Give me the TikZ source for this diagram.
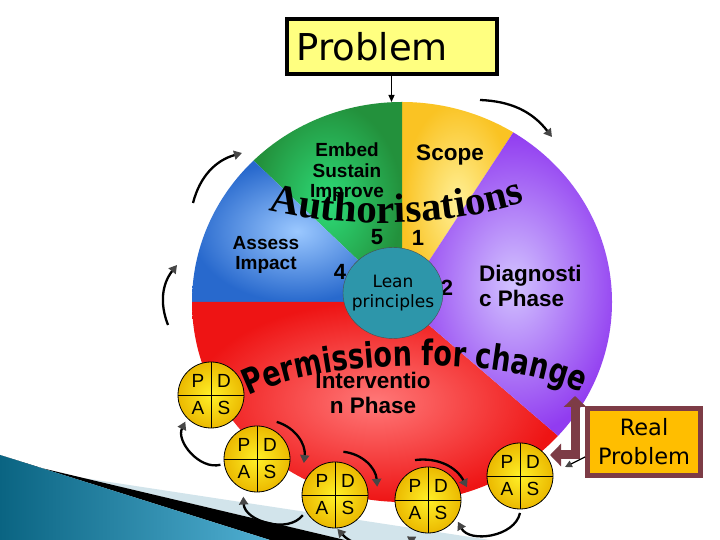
\documentclass[tikz,border=0pt]{standalone}
\usepackage{fontspec}
\setmainfont{Liberation Sans}
\newfontfamily\serifWa{Liberation Serif}
\newfontfamily\tahomaLike{DejaVu Sans}
\usepackage{tikz}
\usetikzlibrary{arrows.meta, positioning, calc, decorations.text, shapes.geometric}
\definecolor{grnIn}{RGB}{45, 220, 120}
\definecolor{grnOut}{RGB}{35, 145, 60}
\definecolor{yelIn}{RGB}{255, 240, 150}
\definecolor{yelOut}{RGB}{250, 195, 35}
\definecolor{purIn}{RGB}{210, 195, 255}
\definecolor{purOut}{RGB}{145, 60, 240}
\definecolor{redIn}{RGB}{255, 120, 120}
\definecolor{redOut}{RGB}{238, 20, 20}
\definecolor{bluIn}{RGB}{155, 200, 255}
\definecolor{bluOut}{RGB}{40, 105, 205}
\definecolor{leanTeal}{RGB}{45, 150, 170}
\definecolor{probYellow}{RGB}{255, 255, 128}
\definecolor{realOrange}{RGB}{255, 190, 0}
\definecolor{realBrown}{RGB}{125, 60, 70}
\definecolor{pdIn}{RGB}{255, 240, 40}
\definecolor{pdOut}{RGB}{235, 185, 0}
\definecolor{tipGray}{RGB}{70, 70, 70}
\definecolor{tealDark}{RGB}{10, 100, 130}
\definecolor{tealLight}{RGB}{80, 175, 210}
\definecolor{stripeLight}{RGB}{210, 228, 235}
\newcommand\authFont{\serifWa\bfseries\fontsize{41}{41}\selectfont}
\newcommand\permFont{\tahomaLike\bfseries\fontsize{27}{27}\selectfont}
\tikzset{
    lbl/.style={font=\bfseries\fontsize{19}{20.5}\selectfont, align=center, inner sep=0pt},
    lblBig/.style={font=\bfseries\fontsize{22.5}{25}\selectfont, align=center, inner sep=0pt},
    numLbl/.style={font=\bfseries\fontsize{22}{22}\selectfont, inner sep=0pt},
    pdsa/.style={circle, draw=black, line width=0.8pt, minimum size=66pt, inner sep=0pt, inner color=pdIn, outer color=pdOut},
    pdLtr/.style={font=\fontsize{19}{19}\selectfont, inner sep=0pt},
    cycArrow/.style={line width=2.3pt, -{Triangle[length=8pt, width=9pt, color=tipGray]}},
    probBox/.style={draw, line width=4pt, fill=probYellow, text width=190pt, inner xsep=10pt, minimum height=55pt, align=left, font=\tahomaLike\fontsize{37}{40}\selectfont},
    realBox/.style={draw=realBrown, line width=5pt, fill=realOrange, minimum width=113pt, minimum height=67pt, align=center, font=\tahomaLike\fontsize{22.5}{29}\selectfont},
    elbow/.style={draw=realBrown, line width=9pt, {Triangle[length=11pt, width=22pt]}-{Triangle[length=11pt, width=22pt]}}
}
\begin{document}
\begin{tikzpicture}[x=1pt, y=1pt]
    \useasboundingbox (0,0) rectangle (720,540);
    \fill[white] (0,0) rectangle (720,540);
    \fill[stripeLight] (83,62) -- (490,0) -- (345,0) -- cycle;
    \fill[black] (37,73) -- (345,0) -- (270,0) -- (0,85) -- cycle;
    \shade[left color=tealDark, right color=tealLight] (0,85) -- (270,0) -- (0,0) -- cycle;

    \coordinate (c) at (402,238);
    \foreach \a/\b/\cIn/\cOut in {58/90/yelIn/yelOut, 90/135/grnIn/grnOut, 135/180/bluIn/bluOut, 180/318/redIn/redOut, -42/58/purIn/purOut}
        \shade[inner color=\cIn, outer color=\cOut] (c) -- ++(\a:210pt and 200pt) arc[start angle=\a, end angle=\b, x radius=210pt, y radius=200pt] -- cycle;

    \node[lbl] (embed) at (347,367.5) {Embed\\Sustain\\Improve};
    \node[lblBig] (scope) at (450,385) {Scope};
    \node[lbl] (assess) at (266,285) {Assess\\Impact};
    \node[lblBig, align=left, anchor=west] (diag) at (479,254.5) {Diagnosti\\c Phase};
    \node[lblBig] (interv) at (373,147.5) {Interventio\\n Phase};

    \node[numLbl] (n5) at (377,303) {5};
    \node[numLbl] (n1) at (418,302) {1};
    \node[numLbl] (n4) at (340,268) {4};
    \node[numLbl] (n2) at (447,252) {2};

    \node[ellipse, draw=black!70, fill=leanTeal, minimum width=100pt, minimum height=91pt, inner sep=0pt] (lean) at (393,247) {};
    \node[align=center, inner sep=0pt, font=\tahomaLike\fontsize{17}{20}\selectfont] (leanTxt) at (lean) {Lean\\principles};

    \path[decorate, decoration={text along path, text={|\authFont|Authorisations}, text align=center}] (262,331) .. controls (345,311) and (445,311) .. (531,340);
    \path[decorate, decoration={text effects along path, text={Permission for change}, text align=center, text effects/.cd, text along path, characters={font=\permFont, yscale=1.3, inner sep=0pt}}] (243,141) .. controls (320,184) and (510,186) .. (587,144);

    \foreach \n/\px/\py in {1/211/145, 2/257/81, 3/335/45, 4/428/40, 5/520/64}
    {
        \node[pdsa] (pd\n) at (\px,\py) {};
        \draw[line width=0.8pt] (pd\n.north) -- (pd\n.south) (pd\n.west) -- (pd\n.east);
        \node[pdLtr] at ($(pd\n)+(-13,14)$) {P};
        \node[pdLtr] at ($(pd\n)+(13,14)$) {D};
        \node[pdLtr] at ($(pd\n)+(-13,-13)$) {A};
        \node[pdLtr] at ($(pd\n)+(13,-13)$) {S};
    }

    \draw[cycArrow] ($(pd2)+(189:37pt)$) to[bend left=65] ($(pd1)+(226:37pt)$);
    \draw[cycArrow] ($(pd2)+(62:42pt)$) to[bend left=40] ($(pd2)+(-5:47pt)$);
    \draw[cycArrow] ($(pd3)+(79:44pt)$) to[bend left=40] ($(pd3)+(11:43pt)$);
    \draw[cycArrow] ($(pd4)+(108:42pt)$) to[bend left=35] ($(pd4)+(18:41pt)$);
    \draw[cycArrow] ($(pd3)+(212:38pt)$) to[bend left=70] ($(pd2)+(250:40pt)$);
    \draw[cycArrow] ($(pd3)+(-60:60pt)$) to[bend left=15] ($(pd3)+(274:34pt)$);
    \draw[cycArrow] ($(pd5)+(270:37pt)$) to[bend left=70] ($(pd4)+(-36:37pt)$);
    \draw[cycArrow] ($(pd4)+(-80:50pt)$) to[bend left=10] ($(pd4)+(240:42pt)$);

    \draw[cycArrow] ($(c)+(-209,99)$) to[bend left=30] ($(c)+(-160,149)$);
    \draw[cycArrow] ($(c)+(-234,-23)$) to[bend left=30] ($(c)+(-225,37)$);
    \draw[cycArrow] ($(c)+(78,202)$) to[bend left=25] ($(c)+(150,165)$);

    \node[probBox] (problem) at (391.5,493.5) {Problem};
    \coordinate (pieTop) at (391.5,438);
    \draw[line width=1.2pt, -{Triangle[length=7pt, width=6pt]}] (problem.south) -- (pieTop);

    \node[realBox] (real) at (644,98) {Real\\Problem};
    \draw[elbow] ([xshift=-10pt, yshift=10pt]real.north west) |- ([xshift=-35pt, yshift=-13pt]real.west);
    \draw[line width=1.2pt, -{Triangle[length=7pt, width=7pt, color=tipGray]}] ([yshift=-15pt]real.west) -- ++(-20,-10);
\end{tikzpicture}
\end{document}
